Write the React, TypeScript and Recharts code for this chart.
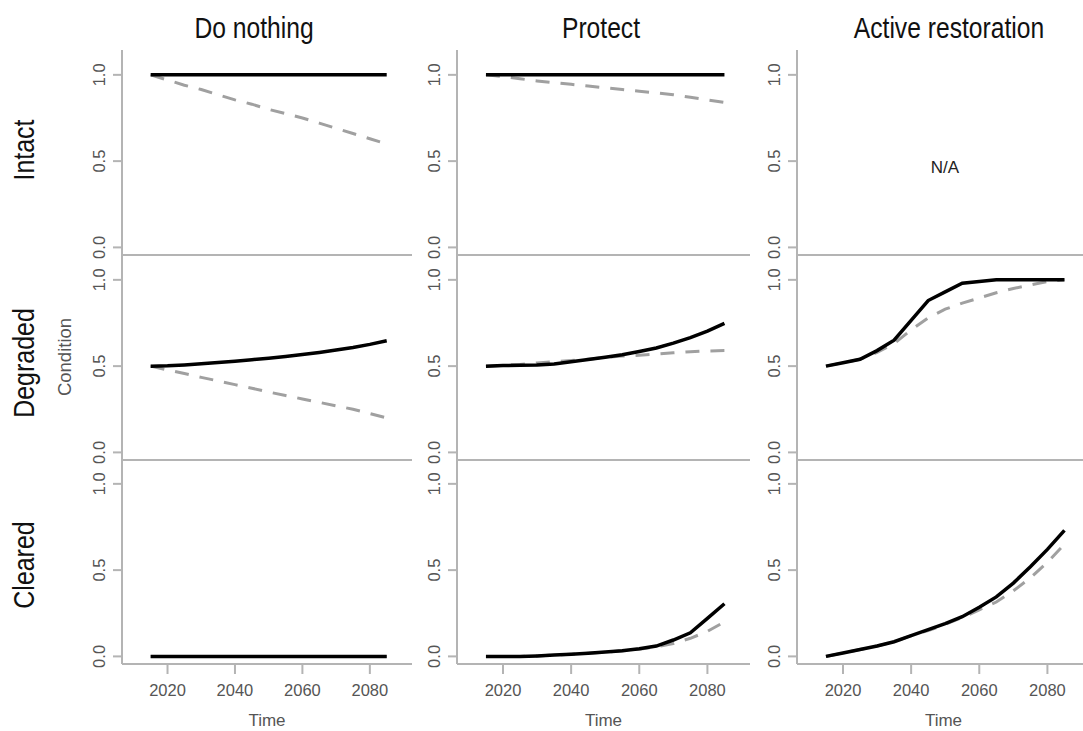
import React from 'react';
import { LineChart, Line, XAxis, YAxis } from 'recharts';

const years = [2015, 2020, 2025, 2030, 2035, 2040, 2045, 2050, 2055, 2060, 2065, 2070, 2075, 2080, 2085];
const xTicks = [2020, 2040, 2060, 2080];
const yTicks = [0, 0.5, 1];

// Intact
const intactNothingSolid = [1, 1, 1, 1, 1, 1, 1, 1, 1, 1, 1, 1, 1, 1, 1];
const intactNothingDashed = [1.0, 0.97, 0.94, 0.915, 0.885, 0.855, 0.83, 0.8, 0.775, 0.75, 0.72, 0.69, 0.66, 0.63, 0.6];
const intactProtectSolid = [1, 1, 1, 1, 1, 1, 1, 1, 1, 1, 1, 1, 1, 1, 1];
const intactProtectDashed = [1.0, 0.99, 0.977, 0.965, 0.955, 0.945, 0.935, 0.925, 0.915, 0.905, 0.895, 0.885, 0.87, 0.855, 0.84];

// Degraded
const degradedNothingSolid = [0.5, 0.502, 0.507, 0.514, 0.521, 0.528, 0.537, 0.546, 0.556, 0.567, 0.579, 0.593, 0.608, 0.626, 0.647];
const degradedNothingDashed = [0.5, 0.478, 0.457, 0.435, 0.414, 0.393, 0.372, 0.35, 0.33, 0.31, 0.29, 0.27, 0.25, 0.225, 0.2];
const degradedProtectSolid = [0.5, 0.503, 0.505, 0.507, 0.513, 0.525, 0.538, 0.551, 0.566, 0.585, 0.605, 0.633, 0.665, 0.703, 0.748];
const degradedProtectDashed = [0.5, 0.505, 0.51, 0.518, 0.525, 0.532, 0.54, 0.55, 0.558, 0.563, 0.57, 0.577, 0.583, 0.588, 0.59];
const degradedRestoreSolid = [0.5, 0.52, 0.54, 0.59, 0.65, 0.765, 0.88, 0.93, 0.98, 0.99, 1.0, 1.0, 1.0, 1.0, 1.0];
const degradedRestoreDashed = [0.5, 0.52, 0.54, 0.58, 0.63, 0.71, 0.78, 0.83, 0.865, 0.895, 0.925, 0.95, 0.97, 0.99, 1.0];

// Cleared
const clearedNothingSolid = [0, 0, 0, 0, 0, 0, 0, 0, 0, 0, 0, 0, 0, 0, 0];
const clearedNothingDashed = [0, 0, 0, 0, 0, 0, 0, 0, 0, 0, 0, 0, 0, 0, 0];
const clearedProtectSolid = [0, 0, 0, 0.003, 0.008, 0.013, 0.018, 0.025, 0.033, 0.045, 0.06, 0.095, 0.137, 0.22, 0.305];
const clearedProtectDashed = [0, 0, 0, 0.003, 0.008, 0.013, 0.018, 0.025, 0.033, 0.042, 0.055, 0.075, 0.105, 0.145, 0.2];
const clearedRestoreSolid = [0, 0.02, 0.04, 0.06, 0.085, 0.12, 0.155, 0.19, 0.23, 0.285, 0.345, 0.425, 0.52, 0.62, 0.73];
const clearedRestoreDashed = [0, 0.02, 0.04, 0.06, 0.085, 0.12, 0.15, 0.185, 0.225, 0.27, 0.315, 0.38, 0.455, 0.545, 0.65];

const FONT = "'Liberation Sans', Arial, sans-serif";
const AXIS = '#b4b4b4';
const TICK_TEXT = '#555';
const PLOT_H = 205;
const AXIS_W = 40;

const YTick = (props: any) => {
  const { x, y, payload } = props;
  return (
    <text
      transform={`translate(${x - 8},${y}) rotate(-90)`}
      textAnchor="middle"
      fill={TICK_TEXT}
      fontSize={16.5}
      fontFamily={FONT}
    >
      {Number(payload.value).toFixed(1)}
    </text>
  );
};

interface PanelProps {
  left: number;
  top: number;
  width: number;
  solid?: number[];
  dashed?: number[];
  bottomAxis?: boolean;
}

const Panel = ({ left, top, width, solid, dashed, bottomAxis }: PanelProps) => {
  const data = years.map((year, i) => ({
    year,
    solid: solid ? solid[i] : null,
    dashed: dashed ? dashed[i] : null,
  }));
  // rows without tick labels still get a little room below the axis line so the 0.0 label is not cut
  const xh = bottomAxis ? 67 : 10;
  return (
    <div style={{ position: 'absolute', left: left - AXIS_W, top }}>
      <LineChart
        width={AXIS_W + width}
        height={PLOT_H + xh}
        data={data}
        margin={{ top: 0, right: 0, bottom: 0, left: 0 }}
      >
        <XAxis
          dataKey="year"
          type="number"
          domain={[2006.5, 2092.5]}
          ticks={xTicks}
          allowDataOverflow
          height={xh}
          axisLine={{ stroke: AXIS, strokeWidth: 2 }}
          tickLine={bottomAxis ? { stroke: AXIS, strokeWidth: 2 } : false}
          tick={bottomAxis ? { fill: TICK_TEXT, fontSize: 16.5, fontFamily: FONT } : false}
          tickSize={10}
          tickMargin={10}
          label={bottomAxis ? { value: 'Time', position: 'insideBottom', offset: 5, fill: TICK_TEXT, fontSize: 17, fontFamily: FONT } : undefined}
        />
        <YAxis
          type="number"
          domain={[-0.044, 1.144]}
          ticks={yTicks}
          allowDataOverflow
          width={AXIS_W}
          axisLine={{ stroke: AXIS, strokeWidth: 2 }}
          tickLine={{ stroke: AXIS, strokeWidth: 2 }}
          tickSize={9}
          tickMargin={0}
          tick={(p: any) => <YTick {...p} />}
        />
        {dashed && (
          <Line type="linear" dataKey="dashed" stroke="#a0a0a0" strokeWidth={3} strokeDasharray="14 11" dot={false} isAnimationActive={false} />
        )}
        {solid && (
          <Line type="linear" dataKey="solid" stroke="#000" strokeWidth={3.5} dot={false} isAnimationActive={false} />
        )}
      </LineChart>
    </div>
  );
};

const colLeft = [122, 457, 797];
const colWidth = [290, 293, 293];
const rowTop = [50, 255, 459];

const titleStyle = (cx: number): React.CSSProperties => ({
  position: 'absolute',
  left: cx - 150,
  width: 300,
  top: 13,
  height: 30,
  lineHeight: '30px',
  textAlign: 'center',
  fontFamily: FONT,
  fontSize: 29,
  color: '#111',
  whiteSpace: 'nowrap',
  transform: 'scaleX(0.85)',
});

const rotStyle = (cx: number, cy: number, size: number, color: string, squeeze: number): React.CSSProperties => ({
  position: 'absolute',
  left: cx,
  top: cy,
  transform: `translate(-50%, -50%) rotate(-90deg) scaleX(${squeeze})`,
  fontFamily: FONT,
  fontSize: size,
  lineHeight: 1,
  color,
  whiteSpace: 'nowrap',
});

export default function App() {
  return (
    <div style={{ position: 'absolute', left: 0, top: 0, width: 1083, height: 731, background: '#fff', overflow: 'hidden' }}>
      <div style={titleStyle(254)}>Do nothing</div>
      <div style={titleStyle(601)}>Protect</div>
      <div style={titleStyle(949)}>Active restoration</div>

      <div style={rotStyle(24, 150, 29, '#111', 0.86)}>Intact</div>
      <div style={rotStyle(24, 363, 29, '#111', 0.86)}>Degraded</div>
      <div style={rotStyle(24, 565, 29, '#111', 0.86)}>Cleared</div>
      <div style={rotStyle(65, 357, 18.5, TICK_TEXT, 1)}>Condition</div>

      <Panel left={colLeft[0]} top={rowTop[0]} width={colWidth[0]} solid={intactNothingSolid} dashed={intactNothingDashed} />
      <Panel left={colLeft[1]} top={rowTop[0]} width={colWidth[1]} solid={intactProtectSolid} dashed={intactProtectDashed} />
      <Panel left={colLeft[2]} top={rowTop[0]} width={colWidth[2]} />

      <Panel left={colLeft[0]} top={rowTop[1]} width={colWidth[0]} solid={degradedNothingSolid} dashed={degradedNothingDashed} />
      <Panel left={colLeft[1]} top={rowTop[1]} width={colWidth[1]} solid={degradedProtectSolid} dashed={degradedProtectDashed} />
      <Panel left={colLeft[2]} top={rowTop[1]} width={colWidth[2]} solid={degradedRestoreSolid} dashed={degradedRestoreDashed} />

      <Panel left={colLeft[0]} top={rowTop[2]} width={colWidth[0]} solid={clearedNothingSolid} dashed={clearedNothingDashed} bottomAxis />
      <Panel left={colLeft[1]} top={rowTop[2]} width={colWidth[1]} solid={clearedProtectSolid} dashed={clearedProtectDashed} bottomAxis />
      <Panel left={colLeft[2]} top={rowTop[2]} width={colWidth[2]} solid={clearedRestoreSolid} dashed={clearedRestoreDashed} bottomAxis />

      <div
        style={{
          position: 'absolute',
          left: 945 - 40,
          width: 80,
          top: 158,
          textAlign: 'center',
          fontFamily: FONT,
          fontSize: 17,
          lineHeight: '20px',
          color: '#222',
        }}
      >
        N/A
      </div>
    </div>
  );
}
